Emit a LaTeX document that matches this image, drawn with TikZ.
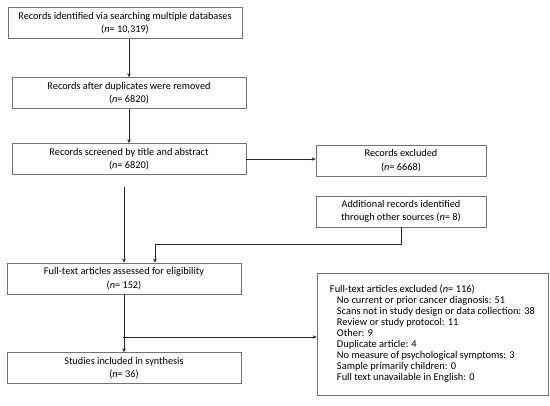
\documentclass[tikz,border=0pt]{standalone}
\usepackage{fontspec}
\setmainfont{Carlito}
\usetikzlibrary{arrows.meta, positioning, calc}

\begin{document}
\begin{tikzpicture}[
      x=1pt, y=1pt,
      box/.style={draw=black!55, line width=0.7pt, minimum width=234pt, minimum height=31pt,
                  inner sep=2pt, align=center, font=\fontsize{10.3}{13.5}\selectfont},
      side/.style={box, minimum width=170pt},
      arr/.style={-{Stealth[length=4pt, width=3.5pt]}, line width=0.5pt, black!85},
    ]
    \useasboundingbox (0,0) rectangle (550,-406);

    % ---- LEFT: main flow ----
    \node[box] (ident) at (125,-23) {Records identified via searching multiple databases\\(\textit{n}= 10,319)};
    \node[box] (dedup) at (129,-93) {Records after duplicates were removed\\(\textit{n}= 6820)};
    \node[box] (screen) at (129,-159) {Records screened by title and abstract\\(\textit{n}= 6820)};
    \node[box] (fulltext) at (124,-278.5) {Full-text articles assessed for eligibility\\(\textit{n}= 152)};
    \node[box] (incl) at (124,-368) {Studies included in synthesis\\(\textit{n}= 36)};

    % ---- RIGHT: side boxes ----
    \node[side] (excl) at (401,-160.5) {Records excluded\\(\textit{n}= 6668)};
    \node[side] (other) at (401,-211.5) {Additional records identified\\through other sources (\textit{n}= 8)};
    \node[box, minimum width=231pt, minimum height=122pt, align=left, inner sep=5pt,
          font=\fontsize{10.4}{11}\selectfont] (ftexcl) at (432.5,-334)
      {Full-text articles excluded (\textit{n}= 116)\\
       \hspace*{7pt}No current or prior cancer diagnosis: 51\\
       \hspace*{7pt}Scans not in study design or data collection: 38\\
       \hspace*{7pt}Review or study protocol: 11\\
       \hspace*{7pt}Other: 9\\
       \hspace*{7pt}Duplicate article: 4\\
       \hspace*{7pt}No measure of psychological symptoms: 3\\
       \hspace*{7pt}Sample primarily children: 0\\
       \hspace*{7pt}Full text unavailable in English: 0};

    % Connectors
    \draw[arr] (dedup.north |- ident.south) -- (dedup.north);
    \draw[arr] (dedup) -- (screen);
    \draw[arr] (screen.east) -- (screen.east -| excl.west);
    \draw[arr, shorten <=12pt] (fulltext.north |- screen.south) -- (fulltext.north);
    \coordinate (join) at (155,-244);
    \draw[arr] (other.south) |- (join) -- (join |- fulltext.north);
    \draw[arr] (fulltext) -- (incl);
    \coordinate (split) at (123,-337);
    \draw[arr] (split) -- (split -| ftexcl.west);

\end{tikzpicture}
\end{document}
